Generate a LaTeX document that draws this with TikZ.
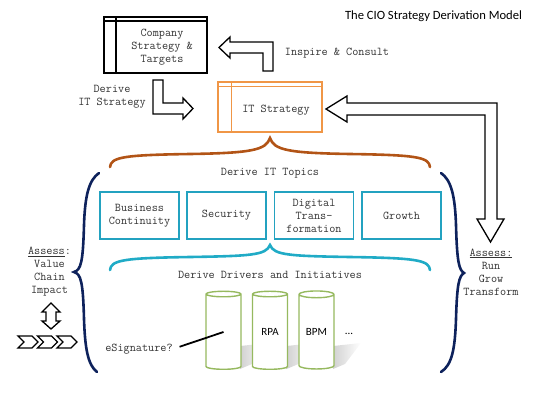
\documentclass[tikz,border=0pt]{standalone}
\usepackage{fontspec}
\usepackage{tikz}
\usetikzlibrary{shapes.geometric}
\newfontfamily\labelfont{Carlito}
\definecolor{cio-orange}{RGB}{240,150,70}
\definecolor{cio-brown}{RGB}{178,84,22}
\definecolor{cio-teal}{RGB}{35,162,192}
\definecolor{cio-navy}{RGB}{14,34,92}
\definecolor{cio-green}{RGB}{150,185,95}

\tikzset{
  txt/.style={font=\ttfamily\fontsize{11.9}{13}\selectfont, text=black!80, align=center, inner sep=0pt},
  winbox/.style={draw, line width=1.8pt, inner sep=0pt},
  topic/.style={txt, draw=cio-teal, line width=1.5pt, minimum width=79pt, minimum height=47pt},
  blockarrow/.style={draw, line width=1.3pt, fill=white, line join=miter},
  brace/.style={line width=2.6pt, line cap=round},
  drum/.style={cylinder, shape border rotate=90, draw=cio-green, line width=1.4pt, fill=white,
    aspect=0.32, minimum width=35pt, minimum height=78pt, inner sep=0pt,
    font=\labelfont\fontsize{11}{13}\selectfont}
}

\begin{document}
\begin{tikzpicture}[x=1pt, y=-1pt]
		\useasboundingbox (0,0) rectangle (540,405);
		
		% Title
		\node (title) [inner sep=0pt, font=\labelfont\fontsize{12.6}{14}\selectfont] at (433.5,16) {The CIO Strategy Derivation Model};
		
		% Draw the company strategy window
		\node (company) [winbox, minimum width=103pt, minimum height=56pt] at (155.5,45) {};
		\draw[line width=1.8pt] ([yshift=-5pt]company.north west) -- ([yshift=-5pt]company.north east);
		\draw[line width=1.8pt] ([xshift=13pt]company.north west) -- ([xshift=13pt]company.south west);
		\node (companytxt) [txt] at (162,47) {Company\\Strategy \&\\Targets};
		
		% Draw the IT strategy window
		\node (itstrat) [winbox, draw=cio-orange, line width=1.4pt, minimum width=104pt, minimum height=50pt] at (270,107) {};
		\draw[cio-orange, line width=1.4pt] ([yshift=-5pt]itstrat.north west) -- ([yshift=-5pt]itstrat.north east);
		\draw[cio-orange, line width=1.4pt] ([xshift=14pt]itstrat.north west) -- ([xshift=14pt]itstrat.south west);
		\node (itstrattxt) [txt] at (276,110) {IT Strategy};
		
		% Draw the block arrows
		\draw[blockarrow] (263,71) -- (263,53) -- (230,53) -- (230,58) -- (219,47.5) -- (230,37) -- (230,42) -- (273,42) -- (273,71) -- cycle;
		\draw[blockarrow] (153,80) -- (163,80) -- (163,103) -- (183,103) -- (183,98) -- (193,108.5) -- (183,119) -- (183,114) -- (153,114) -- cycle;
		\draw[blockarrow] (326,109) -- (347,96) -- (347,103) -- (497,103) -- (497,219) -- (504,219) -- (490.5,242) -- (477,219) -- (485,219) -- (485,115) -- (347,115) -- (347,122) -- cycle;
		\node (inspire) [txt] at (337,53) {Inspire \& Consult};
		\node (derive) [txt] at (112,96.5) {Derive\\IT Strategy};
		
		% Draw the braces
		\draw[brace, cio-brown] (110,167) .. controls (111,157) and (124,155) .. (190,154) .. controls (252,153) and (266,150) .. (270,138)
		  .. controls (274,150) and (288,153) .. (350,154) .. controls (416,155) and (429,157) .. (430,167);
		\draw[brace, cio-teal!90!cyan] (110,270) .. controls (111,260) and (124,258) .. (190,257) .. controls (252,256) and (266,255) .. (270,245)
		  .. controls (274,255) and (288,256) .. (350,257) .. controls (416,258) and (429,260) .. (430,270);
		\draw[brace, cio-navy] (99,173) .. controls (89,180) and (85,195) .. (84,225) .. controls (83,262) and (81,270) .. (74,272)
		  .. controls (81,274) and (83,282) .. (84,319) .. controls (85,349) and (88,365) .. (97,372);
		\draw[brace, cio-navy] (441,173) .. controls (451,180) and (455,195) .. (456,225) .. controls (457,262) and (459,270) .. (464,273)
		  .. controls (459,276) and (457,284) .. (456,319) .. controls (455,349) and (452,365) .. (441,372);
		
		% Draw the IT topics
		\node (topics) [txt] at (270,173) {Derive IT Topics};
		\node (continuity) [topic] at (139.5,215.5) {Business\\Continuity};
		\node (security) [topic] at (226.5,215.5) {Security};
		\node (digital) [topic] at (314,215.5) {Digital\\Trans-\\formation};
		\node (growth) [topic] at (401.5,215.5) {Growth};
		\node (drivers) [txt] at (270,275) {Derive Drivers and Initiatives};
		
		% Draw the assessment labels
		\node (assessleft) [txt] at (49.5,272) {\underline{Assess}:\\Value\\Chain\\Impact};
		\node (assessright) [txt] at (491,272) {\underline{Assess:}\\Run\\Grow\\Transform};
		\draw[blockarrow] (51,303) -- (60,312) -- (56,312) -- (56,321) -- (60,321) -- (51,329) -- (42,321) -- (46,321) -- (46,312) -- (42,312) -- cycle;
		\foreach \i in {0,1,2}
		  \draw[line width=1.3pt, line join=miter] ({18+19.5*\i},336) -- ({32+19.5*\i},336) -- ({38+19.5*\i},342) -- ({32+19.5*\i},348) -- ({18+19.5*\i},348) -- ({24+19.5*\i},342) -- cycle;
		
		% Draw the shadows and the initiative drums
		\foreach \x in {240,286.5,333}
		  \shade[left color=black!18, right color=white] (\x,346) -- (\x+28,343) -- (\x+12,364) -- (\x,369) -- cycle;
		\node (drum1) [drum] at (223.5,332) {\phantom{RPA}};
		\node (drum2) [drum] at (270,332) {RPA};
		\node (drum3) [drum] at (316.5,332) {BPM};
		\node (more) [inner sep=0pt, font=\labelfont\fontsize{11}{13}\selectfont] at (349,334) {...};
		
		% Connect the eSignature label
		\node (esig) [txt] at (139,349) {eSignature?};
		\draw[line width=1.8pt, shorten <=7pt] (esig.east) -- (drum1.center);
\end{tikzpicture}
\end{document}
